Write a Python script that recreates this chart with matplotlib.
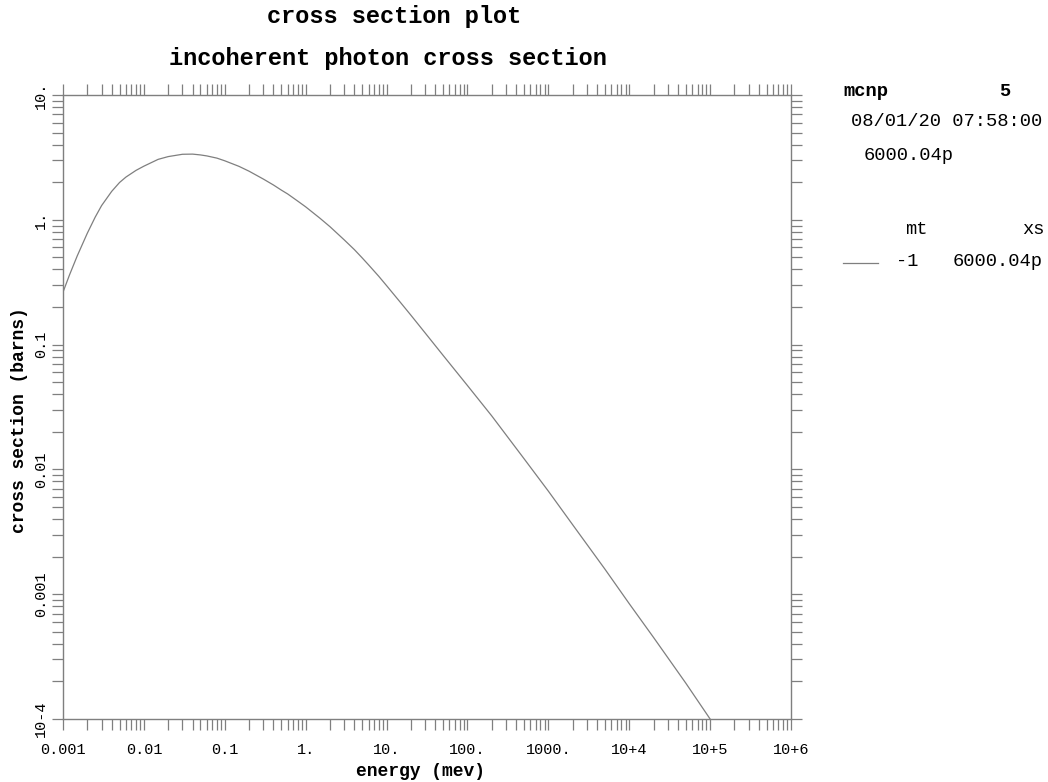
import matplotlib
matplotlib.use("Agg")
import matplotlib.pyplot as plt
from matplotlib.lines import Line2D
from matplotlib.ticker import LogLocator, FixedLocator, FixedFormatter, NullFormatter

# ---------------- data ----------------
energy_mev = [0.001, 0.0012, 0.0015, 0.002, 0.0025, 0.003, 0.004, 0.005, 0.006, 0.008,
              0.01, 0.015, 0.02, 0.03, 0.04, 0.05, 0.06, 0.08, 0.1, 0.15,
              0.2, 0.3, 0.4, 0.5, 0.6, 0.8, 1.0, 1.5, 2.0, 3.0,
              4.0, 5.0, 6.0, 8.0, 10.0, 15.0, 20.0, 30.0, 50.0, 100.0,
              200.0, 500.0, 1000.0, 2000.0, 5000.0, 1e4, 2e4, 5e4, 1e5]
xs_barns = [0.263, 0.36, 0.514, 0.782, 1.05, 1.30, 1.69, 1.99, 2.20, 2.49,
            2.69, 3.05, 3.21, 3.35, 3.36, 3.31, 3.25, 3.12, 2.97, 2.68,
            2.45, 2.12, 1.90, 1.73, 1.61, 1.41, 1.27, 1.03, 0.88, 0.69,
            0.577, 0.495, 0.435, 0.353, 0.297, 0.216, 0.172, 0.124, 0.082, 0.047,
            0.0268, 0.0122, 0.0067, 0.0036, 0.00159, 8.4e-4, 4.5e-4, 1.94e-4, 1.0e-4]

x_ticks = [1e-3, 1e-2, 1e-1, 1, 10, 100, 1000, 1e4, 1e5, 1e6]
x_ticklabels = ["0.001", "0.01", "0.1", "1.", "10.", "100.", "1000.", "10+4", "10+5", "10+6"]
y_ticks = [1e-4, 1e-3, 1e-2, 1e-1, 1, 10]
y_ticklabels = ["10-4", "0.001", "0.01", "0.1", "1.", "10."]

title1 = "cross section plot"
title2 = "incoherent photon cross section"
xlabel = "energy (mev)"
ylabel = "cross section (barns)"
legend_mt = "-1"
legend_xs = "6000.04p"

# ---------------- figure ----------------
W, H = 1048, 782
MONO = ["Liberation Mono", "DejaVu Sans Mono"]
GRAY = "#7f7f7f"

fig = plt.figure(figsize=(W / 100, H / 100), dpi=100)
fig.patch.set_facecolor("white")

def fx(px):
    return px / W

def fy(py):
    return 1 - py / H

L, R, T, B = 63, 791, 95, 719
ax = fig.add_axes([fx(L), fy(B), (R - L) / W, (B - T) / H])
ax.plot(energy_mev, xs_barns, color=GRAY, lw=0.9)
ax.set_xscale("log")
ax.set_yscale("log")
ax.set_xlim(1e-3, 1e6)
ax.set_ylim(1e-4, 10)

for s in ax.spines.values():
    s.set_color(GRAY)
    s.set_linewidth(1.0)

ax.xaxis.set_major_locator(FixedLocator(x_ticks))
ax.xaxis.set_major_formatter(FixedFormatter(x_ticklabels))
ax.yaxis.set_major_locator(FixedLocator(y_ticks))
ax.yaxis.set_major_formatter(FixedFormatter(y_ticklabels))
ax.xaxis.set_minor_locator(LogLocator(base=10, subs=range(2, 10), numticks=50))
ax.yaxis.set_minor_locator(LogLocator(base=10, subs=range(2, 10), numticks=50))
ax.xaxis.set_minor_formatter(NullFormatter())
ax.yaxis.set_minor_formatter(NullFormatter())

ax.tick_params(which="both", direction="out", length=8, width=0.9, color=GRAY,
               top=True, right=True, labeltop=False, labelright=False)
ax.tick_params(axis="x", which="major", pad=9, labelsize=11)
ax.tick_params(axis="y", which="major", pad=3, labelsize=11)
for lab in ax.get_xticklabels():
    lab.set_fontfamily(MONO)
for lab in ax.get_yticklabels():
    lab.set_fontfamily(MONO)
    lab.set_rotation(90)
    lab.set_va("center")
    lab.set_ha("right")

# axis labels
fig.text(fx(420), fy(771), xlabel, ha="center", va="center", fontsize=13,
         fontweight="bold", family=MONO)
fig.text(fx(20), fy(420), ylabel, ha="center", va="center", fontsize=13,
         fontweight="bold", family=MONO, rotation=90)

# titles
fig.text(fx(394), fy(17), title1, ha="center", va="center", fontsize=17,
         fontweight="bold", family=MONO)
fig.text(fx(388), fy(58), title2, ha="center", va="center", fontsize=17,
         fontweight="bold", family=MONO)

# right side information block
fig.text(fx(843), fy(91), "mcnp", ha="left", va="center", fontsize=13.5,
         fontweight="bold", family=MONO)
fig.text(fx(1005), fy(91), "5", ha="center", va="center", fontsize=13.5,
         fontweight="bold", family=MONO)
fig.text(fx(851), fy(122), "08/01/20 07:58:00", ha="left", va="center",
         fontsize=13.5, family=MONO)
fig.text(fx(864), fy(155), legend_xs, ha="left", va="center", fontsize=13.5,
         family=MONO)
fig.text(fx(905), fy(229), "mt", ha="left", va="center", fontsize=13.5,
         family=MONO)
fig.text(fx(1045), fy(229), "xs", ha="right", va="center", fontsize=13.5,
         family=MONO)
fig.add_artist(Line2D([fx(843), fx(878)], [fy(263), fy(263)], color=GRAY, lw=0.9))
fig.text(fx(896), fy(261), legend_mt, ha="left", va="center", fontsize=13.5,
         family=MONO)
fig.text(fx(1043), fy(261), legend_xs, ha="right", va="center", fontsize=13.5,
         family=MONO)

fig.savefig("out.png", dpi=100, facecolor="white")
